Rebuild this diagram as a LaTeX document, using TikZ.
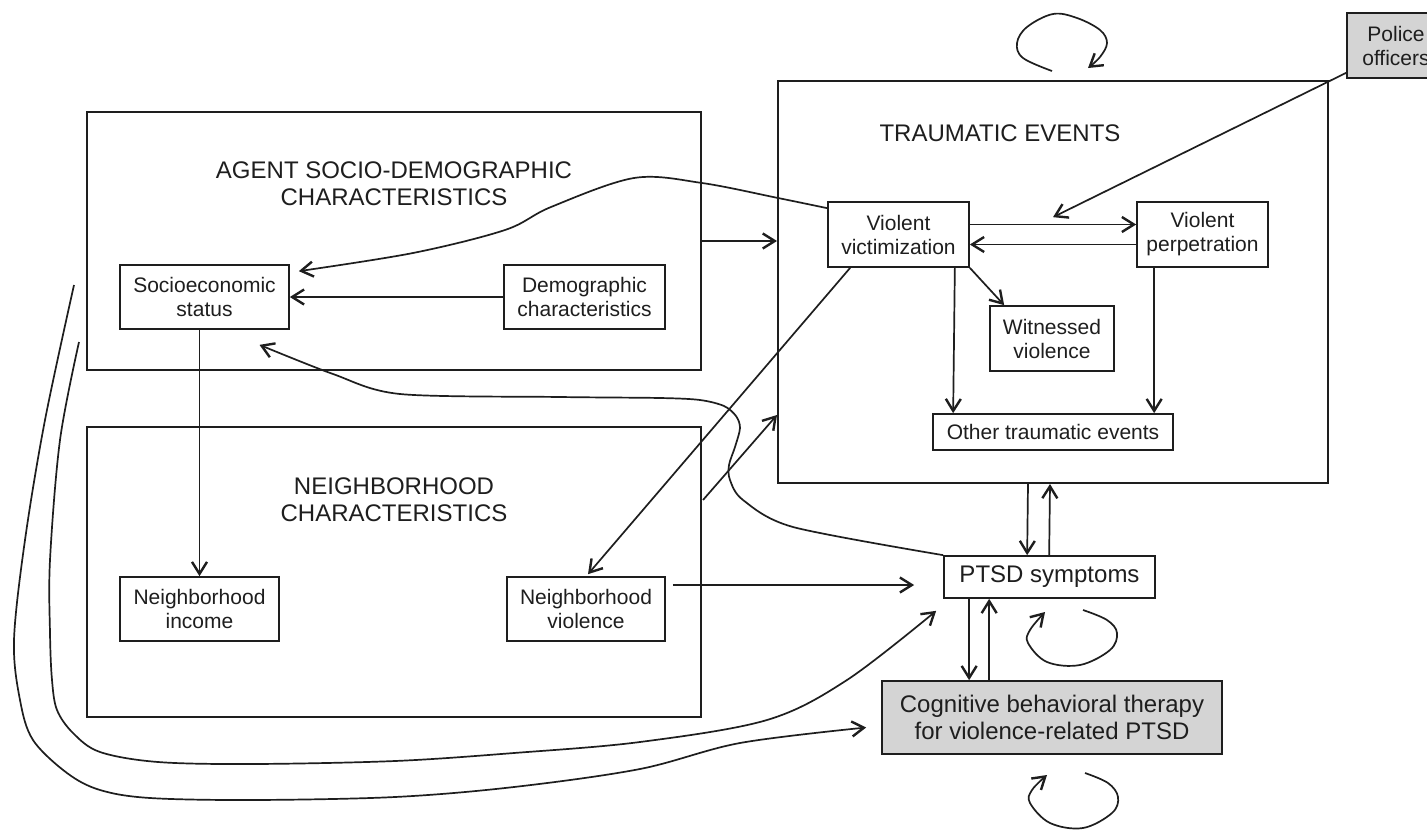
\documentclass[tikz,border=0pt]{standalone}
\usepackage{fontspec}
\setmainfont{Liberation Sans}
\usetikzlibrary{arrows.meta,calc}
\definecolor{ink}{HTML}{1E1E1E}
\definecolor{boxgray}{HTML}{D4D4D4}
\begin{document}
\begin{tikzpicture}[x=1pt,y=-1pt,
  frame/.style={draw=ink, line width=2pt, inner sep=0pt},
  lbl/.style={draw=ink, line width=1.7pt, fill=white, align=center, inner sep=0pt, text=ink,
    font=\fontsize{21}{24}\selectfont},
  biglbl/.style={lbl, font=\fontsize{24}{27}\selectfont},
  ttl/.style={align=center, inner sep=0pt, text=ink, font=\fontsize{24}{27}\selectfont},
  ln/.style={draw=ink, line width=1.7pt},
  conn/.style={ln, -{Straight Barb[length=12pt,width=15pt,line width=2.4pt]}}
]
\useasboundingbox (0,0) rectangle (1427,830);
\fill[white] (0,0) rectangle (1427,830);

% containers
\node[frame, minimum width=614, minimum height=258] (agent) at (394,241) {};
\node[frame, minimum width=614, minimum height=290] (nbh) at (394,572) {};
\node[frame, minimum width=550, minimum height=402] (trauma) at (1053,282) {};

% titles
\node[ttl] (agentT) at (394,184) {AGENT SOCIO-DEMOGRAPHIC\\CHARACTERISTICS};
\node[ttl] (nbhT) at (394,500) {NEIGHBORHOOD\\CHARACTERISTICS};
\node[ttl] (traumaT) at (1000,133) {TRAUMATIC EVENTS};

% nodes
\node[lbl, minimum width=169, minimum height=64] (ses) at (204.5,297) {Socioeconomic\\status};
\node[lbl, minimum width=161, minimum height=64] (demo) at (584.5,297) {Demographic\\characteristics};
\node[lbl, minimum width=159, minimum height=64] (income) at (199.5,609) {Neighborhood\\income};
\node[lbl, minimum width=158, minimum height=64] (nviol) at (586,609) {Neighborhood\\violence};
\node[lbl, minimum width=141, minimum height=65] (vvict) at (898.5,234.5) {Violent\\victimization};
\node[lbl, minimum width=131, minimum height=65] (vperp) at (1202.5,234.5) {Violent\\perpetration};
\node[lbl, minimum width=124, minimum height=65] (witness) at (1052,338.5) {Witnessed\\violence};
\node[lbl, minimum width=240, minimum height=36] (other) at (1053,432) {Other traumatic events};
\node[biglbl, minimum width=211, minimum height=42] (ptsd) at (1049.5,577) {PTSD symptoms};
\node[biglbl, fill=boxgray, minimum width=340, minimum height=73] (cbt) at (1052,717.5) {Cognitive behavioral therapy\\for violence-related PTSD};
\node[lbl, fill=boxgray, minimum width=98, minimum height=65, text width=98, align=center] (police) at (1396,45.5) {Police\\officers};

% helper coordinates
\coordinate (sesA) at ($(ses.north east)+(9,7)$);
\coordinate (sesB) at ($(ses.south)+(55,15)$);
\coordinate (ptsdL) at ($(ptsd.west)+(-29,8)$);
\coordinate (ptsdBL) at ($(ptsd.south west)+(-7,12)$);
\coordinate (cbtL) at ($(cbt.west)+(-15,10)$);
\coordinate (policeT) at ($($(vvict.north east)!0.5!(vperp.north west)$)+(0,16)$);
\coordinate (lc1) at (79,342);
\coordinate (lc2) at (74,285);

% straight connectors
\draw[conn] (demo.west) -- (ses.east);
\draw[conn] (ses.south -| income.north) -- (income.north);
\draw[conn] (agent.east) -- (trauma.west |- agent.east);
\draw[conn] ($(nbh.east)+(1,-72)$) -- ($(trauma.west)+(0,133)$);
\draw[conn] ($(vvict.south west)+(23,0)$) -- ($(nviol.north)+(2,-2)$);
\draw[conn] ($(vvict.east)+(0,-10)$) -- ($(vperp.west)+(0,-10)$);
\draw[conn] ($(vperp.west)+(0,10)$) -- ($(vvict.east)+(0,10)$);
\draw[conn] ($(police.south west)+(0,-6)$) -- (policeT);
\draw[conn] (vvict.south east) -- ($(witness.north west)+(15,0)$);
\draw[conn] ($(vvict.south east)+(-15,0)$) -- ($(other.north west)+(21,0)$);
\draw[conn] ($(vperp.south west)+(18,0)$) -- ($(other.north west)+(222,0)$);
\draw[conn] ($(trauma.south)+(-25,0)$) -- ($(ptsd.north west)+(84,0)$);
\draw[conn] ($(ptsd.north west)+(106,0)$) -- ($(trauma.south)+(-3,0)$);
\draw[conn] ($(ptsd.south west)+(26,0)$) -- ($(cbt.north west)+(88,0)$);
\draw[conn] ($(cbt.north west)+(108,0)$) -- ($(ptsd.south west)+(46,0)$);
\draw[conn] ($(nviol.east)+(7,-24)$) -- (ptsdL);

% curved connectors
\draw[conn] plot[smooth, tension=0.55] coordinates {($(vvict.north west)+(0,7)$) (778,198) (702,183) (634,178) (551,207) (505,230) (413,253) (sesA)};
\draw[conn] plot[smooth, tension=0.5] coordinates {(ptsd.north west) (793,527) (743,500) (730,480) (729,465) (735,447) (740,428) (736,416) (724,406) (700,400) (660,398) (560,397) (400,394) (333,374) (sesB)};
\draw[conn] plot[smooth, tension=0.55] coordinates {(lc1) (60,440) (50,560) (50,633) (52,680) (57,710) (73,733) (100,752) (158,762) (253,764) (395,761) (514,753) (640,742) (767,720) (847,680) (ptsdBL)};
\draw[conn] plot[smooth, tension=0.55] coordinates {(lc2) (45,420) (25,540) (14,640) (20,700) (33,740) (67,773) (100,790) (150,798) (253,800) (395,797) (514,787) (640,769) (740,743) (cbtL)};

% self loops
\draw[conn] plot[smooth, tension=0.6] coordinates {(1052,71) (1023,58) (1017,43) (1027,27) (1053,14) (1077,18) (1100,30) (1107,43) (1100,57) (1088,68)};
\draw[conn] plot[smooth, tension=0.6] coordinates {(1083,610) (1107,620) (1117,633) (1110,650) (1080,665) (1047,662) (1028,643) (1030,630) (1045,612)};
\draw[conn] plot[smooth, tension=0.6] coordinates {(1085,773) (1108,783) (1118,797) (1112,813) (1083,828) (1050,823) (1030,803) (1032,790) (1047,775)};
\end{tikzpicture}
\end{document}
